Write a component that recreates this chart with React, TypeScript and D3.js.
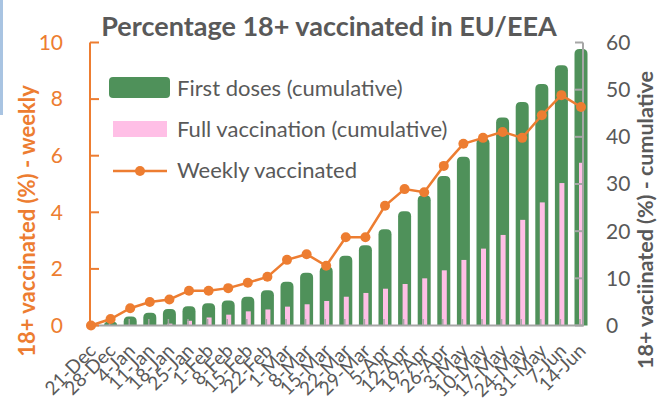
import * as d3 from "d3";

const categories = ["21-Dec", "28-Dec", "4-Jan", "11-Jan", "18-Jan", "25-Jan", "1-Feb", "8-Feb", "15-Feb", "22-Feb", "1-Mar", "8-Mar", "15-Mar", "22-Mar", "29-Mar", "5-Apr", "12-Apr", "19-Apr", "26-Apr", "3-May", "10-May", "17-May", "24-May", "31-May", "7-Jun", "14-Jun"];
const firstDoses = [0, 0.8, 1.9, 2.7, 3.5, 4.1, 4.7, 5.3, 6.1, 7.5, 9.3, 11.2, 12.5, 14.8, 17.0, 20.4, 24.2, 27.6, 31.7, 35.8, 39.7, 44.1, 47.4, 51.2, 55.2, 58.6];
const fullVacc = [0, 0, 0, 0.1, 0.4, 1.0, 1.7, 2.3, 3.0, 3.4, 4.0, 4.5, 5.2, 6.1, 6.9, 7.8, 8.8, 10.0, 11.7, 13.9, 16.3, 19.2, 22.4, 26.1, 30.2, 34.5];
const weekly = [0, 0.23, 0.61, 0.83, 0.92, 1.23, 1.23, 1.32, 1.51, 1.72, 2.32, 2.52, 2.11, 3.12, 3.12, 4.23, 4.82, 4.71, 5.64, 6.42, 6.63, 6.84, 6.63, 7.43, 8.14, 7.72];
const leftTicks = [0, 2, 4, 6, 8, 10];
const rightTicks = [0, 10, 20, 30, 40, 50, 60];

const W = 662, H = 406;
const FONT = "Lato, 'Open Sans', sans-serif";
const ORANGE = "#ED7D31";
const GREEN = "#4F915A";
const PINK = "#FFBFE6";
const GREY = "#595959";
const AXIS = "#A6A6A6";

const x = d3.scalePoint<string>().domain(categories).range([91, 581]);
const yL = d3.scaleLinear().domain([0, 10]).range([325.5, 42.5]);
const yR = d3.scaleLinear().domain([0, 60]).range([325.5, 42.5]);

// bar with rounded top corners
function topRounded(cx: number, w: number, top: number, bottom: number, r: number) {
  const h = bottom - top;
  if (h <= 0) return "";
  const rr = Math.min(r, h, w / 2);
  const l = cx - w / 2, rt = cx + w / 2;
  const p = d3.path();
  p.moveTo(l, bottom);
  p.lineTo(l, top + rr);
  p.quadraticCurveTo(l, top, l + rr, top);
  p.lineTo(rt - rr, top);
  p.quadraticCurveTo(rt, top, rt, top + rr);
  p.lineTo(rt, bottom);
  p.closePath();
  return p.toString();
}

export default function App() {
  const line = d3.line<number>()
    .x((_, i) => x(categories[i])!)
    .y(d => yL(d));

  return (
    <div style={{ position: "absolute", left: 0, top: 0 }}>
      <svg width={W} height={H} style={{ display: "block", fontFamily: FONT }}>
        <rect width={W} height={H} fill="#fff" />
        <rect x={0} y={0} width={3} height={115} fill="#A9C4E2" />

        <text x={329} y={36} textAnchor="middle" fontSize={27} fontWeight={700} fill={GREY}>
          Percentage 18+ vaccinated in EU/EEA
        </text>

        {/* bars */}
        {categories.map((c, i) => (
          <path key={"g" + c} d={topRounded(x(c)!, 13, yR(firstDoses[i]), yR(0), 5)} fill={GREEN} />
        ))}
        {categories.map((c, i) => (
          <rect key={"p" + c} x={x(c)! - 2} y={yR(fullVacc[i])} width={5}
            height={Math.max(0, yR(0) - yR(fullVacc[i]))} fill={PINK} />
        ))}

        {/* x axis */}
        <line x1={90} x2={584} y1={325.5} y2={325.5} stroke={AXIS} strokeWidth={2} />
        {categories.map(c => (
          <line key={"t" + c} x1={x(c)! - 1} x2={x(c)! - 1} y1={325} y2={319} stroke={AXIS} strokeWidth={1.5} />
        ))}
        {categories.map(c => (
          <text key={"l" + c} transform={`translate(${x(c)! + 6},${352}) rotate(-45)`}
            textAnchor="end" fontSize={19} fill={GREY}>{c}</text>
        ))}

        {/* left axis */}
        <line x1={90} x2={90} y1={yL(10)} y2={yL(0)} stroke={ORANGE} strokeWidth={2} />
        {leftTicks.map(t => (
          <g key={"lt" + t}>
            <line x1={90} x2={99} y1={yL(t)} y2={yL(t)} stroke={ORANGE} strokeWidth={2} />
            <text x={63} y={yL(t)} dy="0.35em" textAnchor="end" fontSize={21} fill={ORANGE}>{t}</text>
          </g>
        ))}
        <text transform="translate(35,221) rotate(-90)" textAnchor="middle" fontSize={22} fontWeight={700} fill={ORANGE}>
          18+ vaccinated (%) - weekly
        </text>

        {/* right axis */}
        <line x1={583} x2={583} y1={yR(60)} y2={yR(0)} stroke={AXIS} strokeWidth={2} />
        {rightTicks.map(t => (
          <g key={"rt" + t}>
            <line x1={575} x2={583} y1={yR(t)} y2={yR(t)} stroke={AXIS} strokeWidth={2} />
            <text x={606} y={yR(t)} dy="0.35em" textAnchor="start" fontSize={21} fill={GREY}>{t}</text>
          </g>
        ))}
        <text transform="translate(653,220) rotate(-90)" textAnchor="middle" fontSize={21.5} fontWeight={700} fill={GREY}>
          18+ vaciinated (%) - cumulative
        </text>

        {/* weekly line */}
        <path d={line(weekly)!} fill="none" stroke={ORANGE} strokeWidth={2.5} />
        {weekly.map((v, i) => (
          <circle key={"d" + i} cx={x(categories[i])!} cy={yL(v)} r={5} fill={ORANGE} />
        ))}

        {/* legend */}
        <rect x={109} y={77} width={61} height={21} rx={4} fill={GREEN} />
        <text x={177} y={96} fontSize={22} fill={GREY}>First doses (cumulative)</text>
        <rect x={113} y={121} width={54} height={16} fill={PINK} />
        <text x={177} y={137} fontSize={22} fill={GREY}>Full vaccination (cumulative)</text>
        <line x1={113} x2={167} y1={171} y2={171} stroke={ORANGE} strokeWidth={2.5} />
        <circle cx={140} cy={171} r={5} fill={ORANGE} />
        <text x={177} y={178} fontSize={22} fill={GREY}>Weekly vaccinated</text>
      </svg>
    </div>
  );
}
